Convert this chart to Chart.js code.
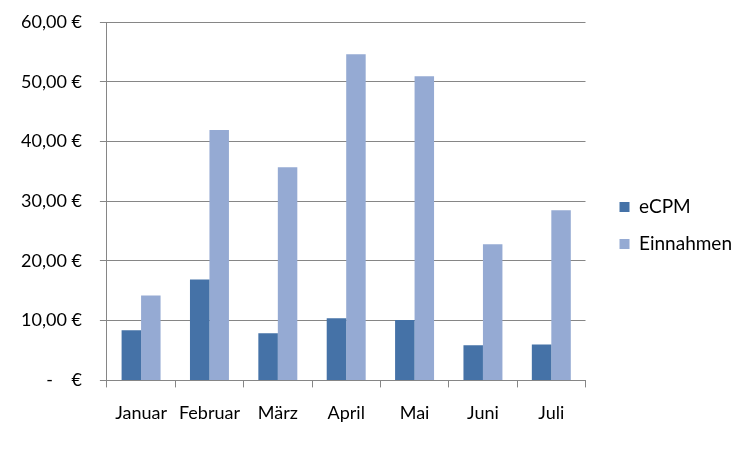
<!DOCTYPE html>
<html>
<head>
<meta charset="utf-8">
<script src="https://cdn.jsdelivr.net/npm/chart.js@4"></script>
<style>
  html, body { margin: 0; padding: 0; background: #fff; }
  #wrap { width: 752px; height: 452px; }
</style>
</head>
<body>
<div id="wrap"><canvas id="chart" width="752" height="452"></canvas></div>
<script>
const months = ["Januar", "Februar", "März", "April", "Mai", "Juni", "Juli"];
const ecpm = [8.4, 16.9, 7.9, 10.4, 10.1, 5.9, 6.0];
const einnahmen = [14.2, 41.9, 35.7, 54.6, 50.9, 22.8, 28.5];
const yTicks = [0, 10, 20, 30, 40, 50, 60];

const gridColor = "#868686";
const fontFamily = "Lato, 'Noto Sans', sans-serif";

function euro(v) {
    if (v === 0) return "-    €";
    return v.toFixed(2).replace(".", ",") + " €";
}

new Chart(document.getElementById("chart").getContext("2d"), {
    type: "bar",
    data: {
        labels: months,
        datasets: [
            { label: "eCPM", data: ecpm, backgroundColor: "#4572A7" },
            { label: "Einnahmen", data: einnahmen, backgroundColor: "#95AAD3" }
        ]
    },
    options: {
        responsive: false,
        animation: false,
        layout: { padding: { left: 3, top: 12, right: 10, bottom: 13 } },
        datasets: { bar: { categoryPercentage: 0.57, barPercentage: 1.0 } },
        scales: {
            x: {
                grid: {
                    offset: true,
                    drawOnChartArea: false,
                    color: gridColor,
                    tickLength: 7
                },
                border: { color: gridColor },
                ticks: { color: "#000", font: { family: fontFamily, size: 18 }, padding: 15 }
            },
            y: {
                min: 0,
                max: 60,
                afterBuildTicks: (axis) => { axis.ticks = yTicks.map(v => ({ value: v })); },
                // tick padding also pads the top; keep the plot top where the original has it
                afterFit: (axis) => { axis.paddingTop = 22; },
                grid: { color: gridColor, tickLength: 7 },
                border: { color: gridColor },
                ticks: {
                    color: "#000",
                    font: { family: fontFamily, size: 18 },
                    padding: 18,
                    callback: (v) => euro(v)
                }
            },
            // empty spacer between plot and legend
            gap: {
                type: "linear",
                position: "right",
                display: true,
                grid: { display: false },
                border: { display: false },
                ticks: { display: false },
                afterFit: (axis) => { axis.width = 16; }
            }
        },
        plugins: {
            legend: {
                position: "right",
                maxWidth: 200,
                labels: {
                    boxWidth: 10,
                    boxHeight: 10,
                    padding: 18,
                    color: "#000",
                    font: { family: fontFamily, size: 19 }
                }
            },
            tooltip: { enabled: false }
        }
    }
});
</script>
</body>
</html>
